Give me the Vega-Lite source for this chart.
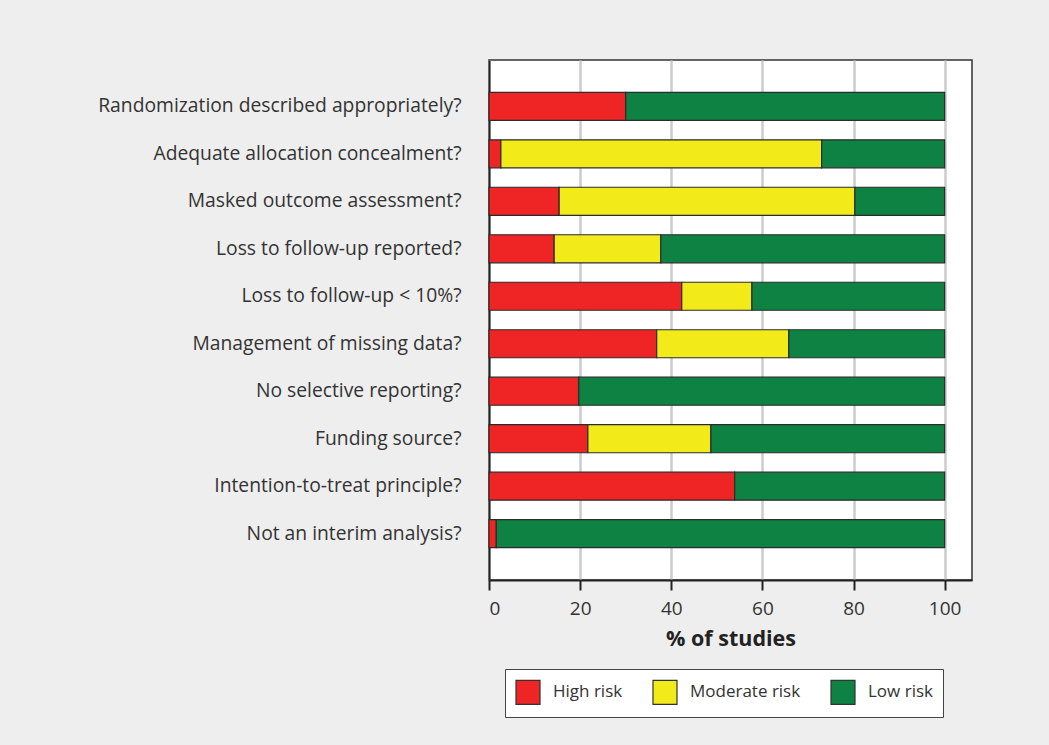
{
  "$schema": "https://vega.github.io/schema/vega-lite/v6.json",
  "width": 483,
  "height": 520,
  "autosize": "none",
  "padding": {"left": 489, "top": 60, "right": 77, "bottom": 165},
  "background": "#eeeeee",
  "config": {
    "font": "Open Sans",
    "view": {"fill": "white", "stroke": "#333333", "strokeWidth": 1.5}
  },
  "data": {
    "values": [
      {"q": "Randomization described appropriately?", "risk": "High risk", "level": 1, "value": 30},
      {"q": "Randomization described appropriately?", "risk": "Moderate risk", "level": 2, "value": 0},
      {"q": "Randomization described appropriately?", "risk": "Low risk", "level": 3, "value": 70},
      {"q": "Adequate allocation concealment?", "risk": "High risk", "level": 1, "value": 2.6},
      {"q": "Adequate allocation concealment?", "risk": "Moderate risk", "level": 2, "value": 70.4},
      {"q": "Adequate allocation concealment?", "risk": "Low risk", "level": 3, "value": 27},
      {"q": "Masked outcome assessment?", "risk": "High risk", "level": 1, "value": 15.4},
      {"q": "Masked outcome assessment?", "risk": "Moderate risk", "level": 2, "value": 64.9},
      {"q": "Masked outcome assessment?", "risk": "Low risk", "level": 3, "value": 19.7},
      {"q": "Loss to follow-up reported?", "risk": "High risk", "level": 1, "value": 14.3},
      {"q": "Loss to follow-up reported?", "risk": "Moderate risk", "level": 2, "value": 23.4},
      {"q": "Loss to follow-up reported?", "risk": "Low risk", "level": 3, "value": 62.3},
      {"q": "Loss to follow-up < 10%?", "risk": "High risk", "level": 1, "value": 42.3},
      {"q": "Loss to follow-up < 10%?", "risk": "Moderate risk", "level": 2, "value": 15.4},
      {"q": "Loss to follow-up < 10%?", "risk": "Low risk", "level": 3, "value": 42.3},
      {"q": "Management of missing data?", "risk": "High risk", "level": 1, "value": 36.8},
      {"q": "Management of missing data?", "risk": "Moderate risk", "level": 2, "value": 29},
      {"q": "Management of missing data?", "risk": "Low risk", "level": 3, "value": 34.2},
      {"q": "No selective reporting?", "risk": "High risk", "level": 1, "value": 19.7},
      {"q": "No selective reporting?", "risk": "Moderate risk", "level": 2, "value": 0},
      {"q": "No selective reporting?", "risk": "Low risk", "level": 3, "value": 80.3},
      {"q": "Funding source?", "risk": "High risk", "level": 1, "value": 21.7},
      {"q": "Funding source?", "risk": "Moderate risk", "level": 2, "value": 27},
      {"q": "Funding source?", "risk": "Low risk", "level": 3, "value": 51.3},
      {"q": "Intention-to-treat principle?", "risk": "High risk", "level": 1, "value": 53.9},
      {"q": "Intention-to-treat principle?", "risk": "Moderate risk", "level": 2, "value": 0},
      {"q": "Intention-to-treat principle?", "risk": "Low risk", "level": 3, "value": 46.1},
      {"q": "Not an interim analysis?", "risk": "High risk", "level": 1, "value": 1.6},
      {"q": "Not an interim analysis?", "risk": "Moderate risk", "level": 2, "value": 0},
      {"q": "Not an interim analysis?", "risk": "Low risk", "level": 3, "value": 98.4}
    ]
  },
  "transform": [{"filter": "datum.value > 0"}],
  "mark": {"type": "bar", "stroke": "#2b2b2b", "strokeWidth": 1.2},
  "encoding": {
    "y": {
      "field": "q",
      "type": "nominal",
      "sort": null,
      "scale": {"paddingInner": 0.41, "paddingOuter": 0.68},
      "axis": {
        "title": null,
        "ticks": false,
        "domainColor": "#222222",
        "domainWidth": 2,
        "labelFontSize": 19.3,
        "labelColor": "#333333",
        "labelPadding": 28,
        "labelLimit": 480,
        "grid": false
      }
    },
    "x": {
      "field": "value",
      "type": "quantitative",
      "stack": "zero",
      "scale": {"domain": [0, 106], "nice": false},
      "axis": {
        "title": "% of studies",
        "values": [0, 20, 40, 60, 80, 100],
        "titleFontSize": 21.5,
        "titleFontWeight": "bold",
        "titleColor": "#222222",
        "titlePadding": 10,
        "labelFontSize": 19,
        "labelColor": "#333333",
        "labelPadding": 9,
        "tickSize": 10,
        "tickWidth": 2,
        "tickColor": "#222222",
        "domainColor": "#222222",
        "domainWidth": 2,
        "grid": true,
        "gridColor": "#cccccc",
        "gridWidth": 2.5
      }
    },
    "color": {
      "field": "risk",
      "type": "nominal",
      "scale": {
        "domain": ["High risk", "Moderate risk", "Low risk"],
        "range": ["#ee2425", "#f2ea19", "#0e8242"]
      },
      "legend": {
        "title": null,
        "orient": "none",
        "direction": "horizontal",
        "legendX": 16,
        "legendY": 609,
        "symbolType": "square",
        "symbolSize": 576,
        "symbolStrokeColor": "#333333",
        "symbolStrokeWidth": 1.2,
        "labelFontSize": 17,
        "labelColor": "#333333",
        "labelOffset": 12,
        "columnPadding": 27,
        "padding": 10,
        "strokeColor": "#444444",
        "fillColor": "white"
      }
    },
    "order": {"field": "level", "type": "quantitative"}
  }
}
